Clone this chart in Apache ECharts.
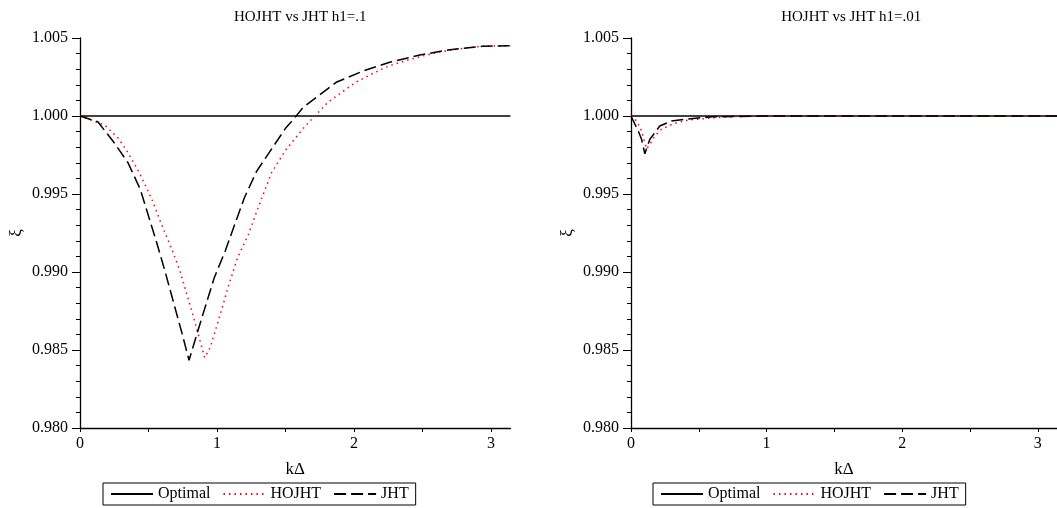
<!DOCTYPE html>
<html><head><meta charset="utf-8">
<script src="https://cdn.jsdelivr.net/npm/echarts@6/dist/echarts.min.js"></script>
<style>html,body{margin:0;padding:0;background:#fff}#c{width:1057px;height:508px}</style>
</head><body><div id="c"></div>
<script>
const PI = Math.PI;
const titles = ['HOJHT vs JHT h1=.1', 'HOJHT vs JHT h1=.01'];
const seriesNames = ['Optimal', 'HOJHT', 'JHT'];
const xTickLabels = [0, 1, 2, 3];
const yTickValues = [0.980, 0.985, 0.990, 0.995, 1.000, 1.005];

const optimalX = [0, PI];
const optimalY = [1.0, 1.0];

const jhtLeftX = [0, 0.13, 0.24, 0.35, 0.44, 0.5, 0.56, 0.62, 0.68, 0.74, 0.796, 0.86, 0.92, 0.98, 1.06, 1.13, 1.2, 1.29, 1.5, 1.56, 1.63, 1.74, 1.87, 2.07, 2.26, 2.48, 2.7, 2.94, PI];
const jhtLeftY = [1.0, 0.99963, 0.9984, 0.99701, 0.9953, 0.99359, 0.99188, 0.99006, 0.98814, 0.98622, 0.98434, 0.98622, 0.98793, 0.98963, 0.99135, 0.99306, 0.99476, 0.99647, 0.99921, 0.99981, 1.00056, 1.0013, 1.00216, 1.0029, 1.00344, 1.00391, 1.00425, 1.00447, 1.0045];

const hojhtLeftX = [0, 0.18, 0.28, 0.35, 0.42, 0.48, 0.53, 0.58, 0.63, 0.68, 0.73, 0.78, 0.83, 0.89, 0.91, 0.95, 1.01, 1.08, 1.15, 1.23, 1.3, 1.4, 1.5, 1.63, 1.72, 1.81, 1.91, 2.02, 2.14, 2.26, 2.38, 2.51, 2.64, 2.8, 2.94, PI];
const hojhtLeftY = [1.0, 0.99942, 0.99857, 0.99765, 0.99658, 0.99551, 0.99455, 0.99338, 0.99231, 0.99124, 0.99006, 0.98857, 0.98707, 0.98515, 0.98451, 0.98515, 0.98686, 0.98899, 0.99092, 0.99242, 0.99412, 0.9964, 0.9978, 0.99921, 1.00006, 1.00088, 1.00152, 1.0022, 1.00274, 1.00323, 1.00355, 1.00387, 1.00413, 1.00434, 1.00447, 1.0045];

const jhtRightX = [0, 0.053, 0.078, 0.102, 0.139, 0.176, 0.212, 0.298, 0.395, 0.6, 1.0, 2.0, PI];
const jhtRightY = [1.0, 0.99904, 0.99851, 0.99758, 0.99851, 0.99893, 0.99936, 0.99968, 0.99979, 0.99995, 1.0, 1.0, 1.0];

const hojhtRightX = [0, 0.042, 0.078, 0.102, 0.115, 0.139, 0.176, 0.225, 0.322, 0.42, 0.7, 1.0, 2.0, PI];
const hojhtRightY = [1.0, 0.99968, 0.99904, 0.99829, 0.9979, 0.99818, 0.99872, 0.99915, 0.99953, 0.99974, 0.99995, 1.0, 1.0, 1.0];

const zip = (xs, ys) => xs.map((x, i) => [x, ys[i]]);
const FONT = 'Liberation Serif';

const chart = echarts.init(document.getElementById('c'), null, {renderer: 'canvas'});
const gridLeft = [80, 631];
const gridW = 137 * PI;

function xAxis(i) {
  return {
    gridIndex: i, type: 'value', min: 0, max: PI,
    name: 'kΔ', nameLocation: 'middle', nameGap: 33,
    nameTextStyle: {fontFamily: FONT, fontSize: 17, color: '#000'},
    axisLine: {onZero: false, lineStyle: {color: '#000', width: 1.3}},
    axisTick: {show: true, length: 4, customValues: [0, 0.5, 1, 1.5, 2, 2.5, 3], lineStyle: {color: '#000'}},
    axisLabel: {customValues: xTickLabels, fontFamily: FONT, fontSize: 16, color: '#000', margin: 8},
    splitLine: {show: false}
  };
}
function yAxis(i) {
  return {
    gridIndex: i, type: 'value', min: 0.980, max: 1.005, interval: 0.005,
    name: 'ξ', nameLocation: 'middle', nameGap: 55, nameRotate: 90,
    nameTextStyle: {fontFamily: FONT, fontSize: 17, color: '#000'},
    axisLine: {lineStyle: {color: '#000', width: 1.3}},
    axisTick: {length: 8, lineStyle: {color: '#000'}},
    minorTick: {show: true, splitNumber: 5, length: 4, lineStyle: {color: '#000'}},
    axisLabel: {fontFamily: FONT, fontSize: 16, color: '#000', margin: 12,
      formatter: v => v.toFixed(3)},
    splitLine: {show: false}
  };
}
function mkSeries(name, data, i, style) {
  return {name, type: 'line', xAxisIndex: i, yAxisIndex: i, data, symbol: 'none',
    showSymbol: false, silent: true, animation: false, lineStyle: style,
    itemStyle: {color: 'rgba(0,0,0,0)'}};
}
const optStyle = {color: '#000', width: 1.5, type: 'solid'};
const hoStyle = {color: '#ff0000', width: 1.5, type: [1.5, 4]};
const jhtStyle = {color: '#000', width: 1.5, type: [12, 5]};

const series = [];
[[jhtLeftX, jhtLeftY, hojhtLeftX, hojhtLeftY], [jhtRightX, jhtRightY, hojhtRightX, hojhtRightY]].forEach((d, i) => {
  series.push(mkSeries('Optimal', zip(optimalX, optimalY), i, optStyle));
  series.push(mkSeries('HOJHT', zip(d[2], d[3]), i, hoStyle));
  series.push(mkSeries('JHT', zip(d[0], d[1]), i, jhtStyle));
});

const legends = [103, 653].map(l => ({
  left: l, top: 483, orient: 'horizontal', data: seriesNames,
  itemWidth: 42, itemHeight: 14, itemGap: 12, padding: [3, 7],
  borderColor: '#000', borderWidth: 1, selectedMode: false,
  textStyle: {fontFamily: FONT, fontSize: 16, color: '#000'}
}));

chart.setOption({
  animation: false,
  backgroundColor: '#fff',
  title: titles.map((t, i) => ({text: t, left: gridLeft[i] + gridW / 2, top: 5, textAlign: 'center',
    textStyle: {fontFamily: FONT, fontSize: 15, fontWeight: 'normal', color: '#000'}})),
  grid: gridLeft.map(l => ({left: l, top: 38, width: gridW, height: 390, containLabel: false})),
  xAxis: [xAxis(0), xAxis(1)],
  yAxis: [yAxis(0), yAxis(1)],
  legend: legends,
  series
});
</script></body></html>
